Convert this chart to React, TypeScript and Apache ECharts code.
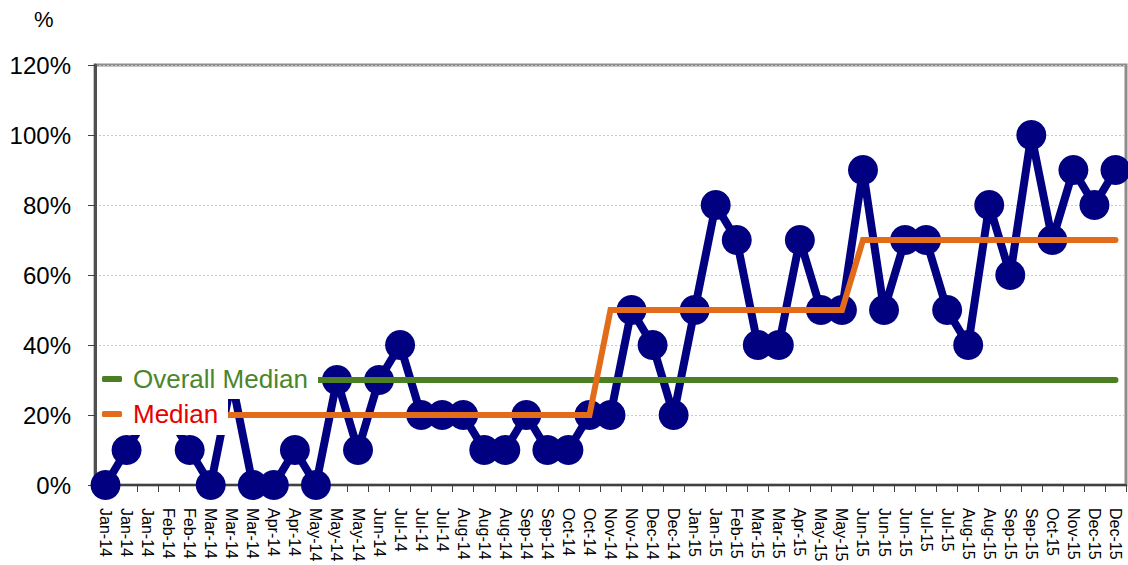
import React, { useEffect, useRef } from "react";
import * as echarts from "echarts";

const categories = [
  "Jan-14", "Jan-14", "Jan-14", "Feb-14", "Feb-14", "Mar-14", "Mar-14", "Mar-14", "Apr-14", "Apr-14",
  "May-14", "May-14", "May-14", "Jun-14", "Jul-14", "Jul-14", "Jul-14", "Aug-14", "Aug-14", "Aug-14",
  "Sep-14", "Sep-14", "Oct-14", "Oct-14", "Nov-14", "Nov-14", "Dec-14", "Dec-14", "Jan-15", "Jan-15",
  "Feb-15", "Mar-15", "Mar-15", "Apr-15", "May-15", "May-15", "Jun-15", "Jun-15", "Jun-15", "Jul-15",
  "Jul-15", "Aug-15", "Aug-15", "Sep-15", "Sep-15", "Oct-15", "Nov-15", "Dec-15", "Dec-15",
];

const rate = [
  0, 10, 20, 20, 10, 0, 30, 0, 0, 10,
  0, 30, 10, 30, 40, 20, 20, 20, 10, 10,
  20, 10, 10, 20, 20, 50, 40, 20, 50, 80,
  70, 40, 40, 70, 50, 50, 90, 50, 70, 70,
  50, 40, 80, 60, 100, 70, 90, 80, 90,
];

const median = [
  20, 20, 20, 20, 20, 20, 20, 20, 20, 20,
  20, 20, 20, 20, 20, 20, 20, 20, 20, 20,
  20, 20, 20, 20, 50, 50, 50, 50, 50, 50,
  50, 50, 50, 50, 50, 50, 70, 70, 70, 70,
  70, 70, 70, 70, 70, 70, 70, 70, 70,
];

const overallMedian = [
  30, 30, 30, 30, 30, 30, 30, 30, 30, 30,
  30, 30, 30, 30, 30, 30, 30, 30, 30, 30,
  30, 30, 30, 30, 30, 30, 30, 30, 30, 30,
  30, 30, 30, 30, 30, 30, 30, 30, 30, 30,
  30, 30, 30, 30, 30, 30, 30, 30, 30,
];

const FONT = "'Liberation Sans', Arial, Helvetica, sans-serif";

export default function App() {
  const ref = useRef<HTMLDivElement>(null);
  useEffect(() => {
    if (!ref.current) return;
    const chart = echarts.init(ref.current, undefined, { renderer: "svg" });
    chart.setOption({
      animation: false,
      backgroundColor: "#ffffff",
      textStyle: { fontFamily: FONT },
      grid: {
        left: 95,
        right: 2,
        top: 65,
        bottom: 80,
        show: true,
        borderColor: "#8c8c8c",
        borderWidth: 3,
        backgroundColor: "transparent",
      },
      graphic: [
        {
          type: "text",
          left: 34,
          top: 8,
          style: { text: "%", fontSize: 22, fontFamily: FONT, fill: "#000" },
        },
        {
          type: "rect",
          z: 3.5,
          silent: true,
          shape: { x: 97, y: 362, width: 221, height: 37 },
          style: { fill: "#ffffff" },
        },
        {
          type: "rect",
          z: 3.5,
          silent: true,
          shape: { x: 97, y: 399, width: 131, height: 36 },
          style: { fill: "#ffffff" },
        },
      ],
      legend: [
        {
          data: [{ name: "Overall Median", icon: "roundRect" }],
          left: 97,
          top: 363,
          padding: [3, 9, 3, 5],
          itemWidth: 20,
          itemHeight: 6,
          selectedMode: false,
          z: 4,
          textStyle: {
            color: "#4a862a",
            fontSize: 26,
            fontFamily: FONT,
            padding: [0, 0, 0, 6],
          },
        },
        {
          data: [{ name: "Median", icon: "roundRect" }],
          left: 97,
          top: 398,
          padding: [3, 10, 3, 5],
          itemWidth: 20,
          itemHeight: 6,
          selectedMode: false,
          z: 4,
          textStyle: {
            color: "#e60000",
            fontSize: 26,
            fontFamily: FONT,
            padding: [0, 0, 0, 6],
          },
        },
      ],
      xAxis: {
        type: "category",
        data: categories,
        boundaryGap: true,
        axisLine: { show: true, lineStyle: { color: "#404040", width: 2 } },
        axisTick: { show: true, length: 7, lineStyle: { color: "#404040", width: 1 } },
        axisLabel: {
          interval: 0,
          rotate: -90,
          margin: 23,
          fontSize: 16,
          color: "#000",
          fontFamily: FONT,
        },
        splitLine: { show: false },
      },
      yAxis: {
        type: "value",
        min: 0,
        max: 120,
        interval: 20,
        axisLine: { show: true, lineStyle: { color: "#505050", width: 3 } },
        axisTick: { show: true, length: 7, lineStyle: { color: "#404040", width: 1 } },
        axisLabel: {
          formatter: "{value}%",
          fontSize: 24,
          margin: 24,
          color: "#000",
          fontFamily: FONT,
        },
        splitLine: { show: true, lineStyle: { color: "#c8c8c8", width: 1, type: [2, 2] } },
      },
      series: [
        {
          name: "Rate",
          type: "line",
          data: rate,
          symbol: "circle",
          symbolSize: 30,
          clip: false,
          itemStyle: { color: "#000080" },
          lineStyle: { color: "#000080", width: 8 },
          z: 2,
        },
        {
          name: "Overall Median",
          type: "line",
          data: overallMedian,
          symbol: "none",
          itemStyle: { color: "#4b7f23" },
          lineStyle: { color: "#4b7f23", width: 6, cap: "round" },
          z: 3,
        },
        {
          name: "Median",
          type: "line",
          data: median,
          symbol: "none",
          itemStyle: { color: "#e36c1b" },
          lineStyle: { color: "#e36c1b", width: 6, cap: "round", join: "miter" },
          z: 3,
        },
      ],
    });
    return () => chart.dispose();
  }, []);
  return (
    <div
      ref={ref}
      style={{ position: "fixed", left: 0, top: 0, width: 1128, height: 565, background: "#fff" }}
    />
  );
}
